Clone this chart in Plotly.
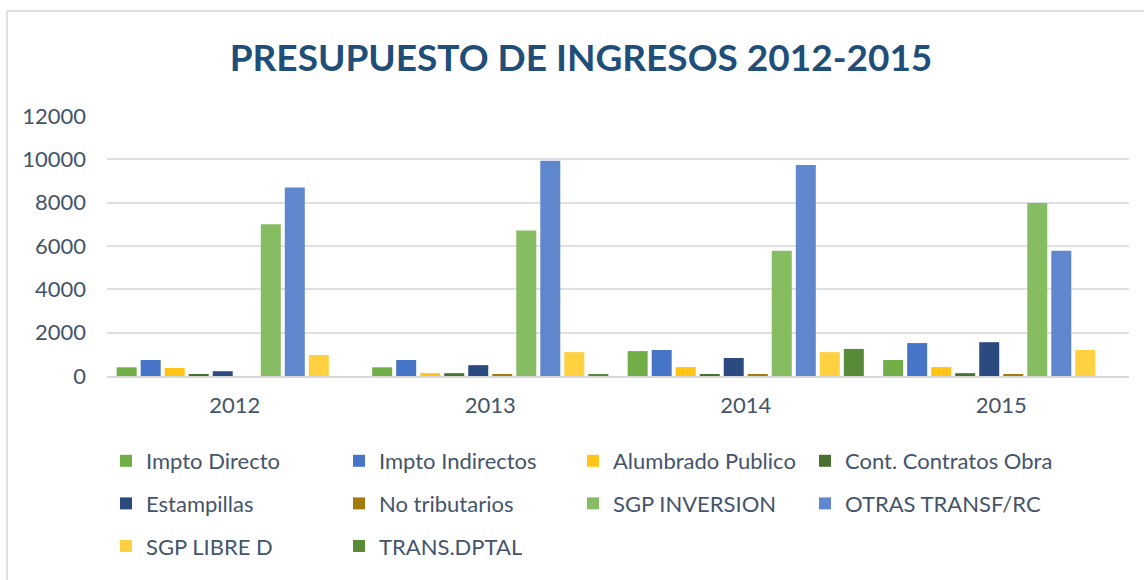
import plotly.graph_objects as go

years = ["2012", "2013", "2014", "2015"]
series_names = ["Impto Directo", "Impto Indirectos", "Alumbrado Publico", "Cont. Contratos Obra",
                "Estampillas", "No tributarios", "SGP INVERSION", "OTRAS TRANSF/RC",
                "SGP LIBRE D", "TRANS.DPTAL"]
impto_directo = [400, 400, 1150, 740]
impto_indirectos = [740, 740, 1200, 1520]
alumbrado_publico = [370, 130, 410, 410]
cont_contratos_obra = [80, 130, 80, 130]
estampillas = [220, 500, 830, 1560]
no_tributarios = [0, 90, 90, 90]
sgp_inversion = [7000, 6720, 5780, 7980]
otras_transf = [8700, 9930, 9740, 5780]
sgp_libre_d = [970, 1100, 1100, 1200]
trans_dptal = [0, 80, 1250, 0]
y_ticks = [0, 2000, 4000, 6000, 8000, 10000, 12000]

values = [impto_directo, impto_indirectos, alumbrado_publico, cont_contratos_obra,
          estampillas, no_tributarios, sgp_inversion, otras_transf, sgp_libre_d, trans_dptal]
colors = ["#72AE48", "#4675C8", "#FFC415", "#48702F", "#2A4A80",
          "#A27C0A", "#86BC62", "#5F87CE", "#FFD040", "#588A38"]
# legend columns (4 columns, filled row by row)
legend_ids = ["legend", "legend2", "legend3", "legend4"] * 3

FONT = "Lato"
TXT = "#44546A"

fig = go.Figure()
for i, (name, vals, col) in enumerate(zip(series_names, values, colors)):
    fig.add_trace(go.Bar(x=years, y=vals, name=name, marker_color=col,
                         marker_line_width=0, legend=legend_ids[i],
                         legendgroup=name))

W, H = 1144, 580
L, R, T, B = 107, 15, 116, 204
pw, ph = W - L - R, H - T - B

def leg(x_px):
    return dict(orientation="v", x=x_px / W, xref="container", xanchor="left",
                y=1 - 440 / H, yref="container", yanchor="top",
                tracegroupgap=11,
                font=dict(family=FONT, size=22, color=TXT),
                bgcolor="rgba(0,0,0,0)", itemclick=False)

fig.update_layout(
    width=W, height=H,
    margin=dict(l=L, r=R, t=T, b=B, autoexpand=False),
    paper_bgcolor="white", plot_bgcolor="white",
    barmode="group", bargap=0.06, bargroupgap=0.167,
    title=dict(text="<b>PRESUPUESTO DE INGRESOS 2012-2015</b>",
               x=581 / W, xref="container", xanchor="center",
               y=1 - 58 / H, yref="container", yanchor="middle",
               font=dict(family=FONT, size=37, color="#1F4E79")),
    legend=leg(106), legend2=leg(339), legend3=leg(573), legend4=leg(805),
    xaxis=dict(showline=True, linecolor="#D9D9D9", linewidth=2, automargin=False,
               tickfont=dict(family=FONT, size=22, color=TXT),
               ticks="", ticklabelstandoff=9, showgrid=False),
    yaxis=dict(range=[0, 12000], tickvals=y_ticks, tickformat="d", showgrid=True,
               gridcolor="#DDE1E6", gridwidth=1.5, zeroline=False, automargin=False,
               tickfont=dict(family=FONT, size=22, color=TXT),
               ticklabelstandoff=20, ticks=""),
    shapes=[
        dict(type="line", xref="paper", yref="paper",
             x0=(7 - L) / pw, x1=(7 - L) / pw, y0=(H - B - 11) / ph, y1=(H - B - 600) / ph,
             line=dict(color="#DDE1E6", width=2)),
        dict(type="line", xref="paper", yref="paper",
             x0=(7 - L) / pw, x1=(1160 - L) / pw, y0=(H - B - 11) / ph, y1=(H - B - 11) / ph,
             line=dict(color="#DDE1E6", width=2)),
    ],
)

fig.write_html("out.html", config={"displayModeBar": False},
               post_script="document.body.style.margin='0';document.body.style.overflow='hidden';")
